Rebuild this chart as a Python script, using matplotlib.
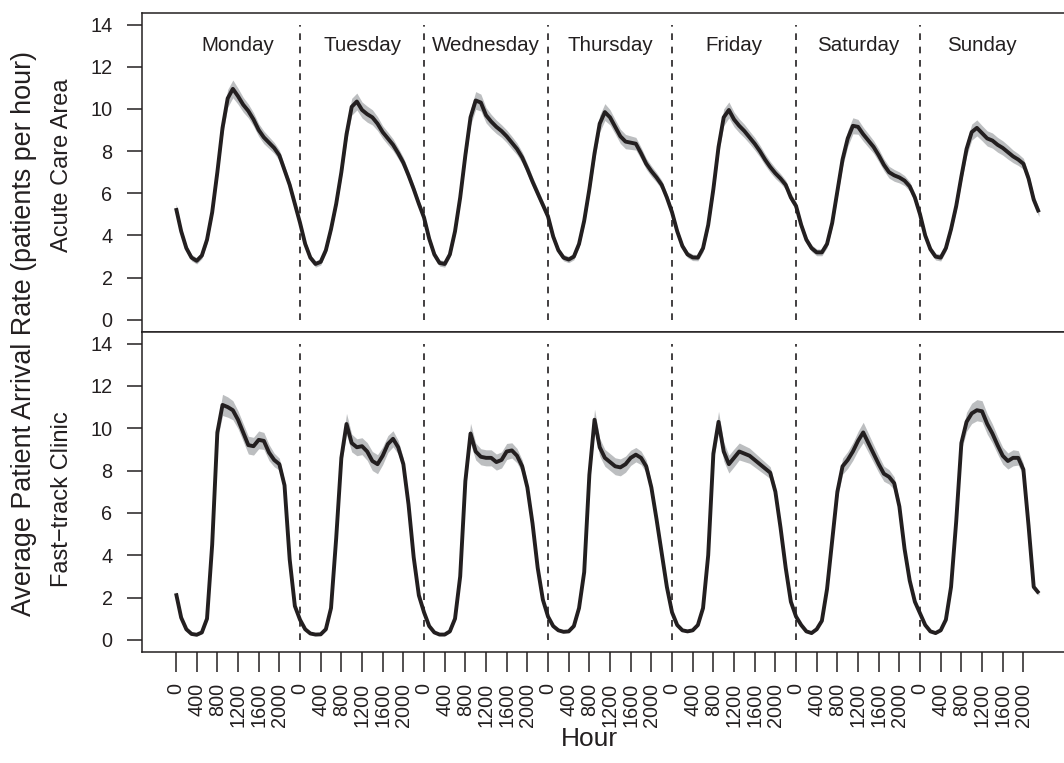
import numpy as np
import matplotlib
matplotlib.use("Agg")
import matplotlib.pyplot as plt

plt.rcParams['font.family'] = ['Liberation Sans', 'DejaVu Sans']

days = ["Monday", "Tuesday", "Wednesday", "Thursday", "Friday", "Saturday", "Sunday"]
tick_hours = [0, 4, 8, 12, 16, 20]
tick_names = ["0", "400", "800", "1200", "1600", "2000"]

# Acute Care Area, hourly average arrivals (hour 0..23 of each day)
acute_mon = [5.3, 4.2, 3.4, 2.95, 2.8, 3.05, 3.8, 5.1, 7.0, 9.1, 10.5, 10.95, 10.6, 10.2, 9.9, 9.5, 9.0, 8.65, 8.4, 8.15, 7.8, 7.1, 6.4, 5.5]
acute_tue = [4.6, 3.6, 2.95, 2.65, 2.75, 3.3, 4.3, 5.5, 7.0, 8.8, 10.1, 10.35, 9.95, 9.75, 9.6, 9.3, 8.9, 8.6, 8.3, 7.9, 7.45, 6.85, 6.2, 5.5]
acute_wed = [4.85, 3.85, 3.1, 2.7, 2.65, 3.1, 4.2, 5.8, 7.8, 9.6, 10.4, 10.3, 9.7, 9.4, 9.15, 8.95, 8.7, 8.4, 8.1, 7.7, 7.15, 6.55, 6.0, 5.45]
acute_thu = [4.9, 3.95, 3.3, 2.95, 2.86, 3.0, 3.6, 4.7, 6.2, 7.9, 9.3, 9.85, 9.6, 9.15, 8.7, 8.45, 8.4, 8.35, 7.9, 7.4, 7.05, 6.75, 6.4, 5.8]
acute_fri = [5.1, 4.2, 3.5, 3.1, 2.96, 2.95, 3.4, 4.5, 6.2, 8.2, 9.6, 9.95, 9.5, 9.2, 8.95, 8.65, 8.35, 8.0, 7.6, 7.25, 6.95, 6.7, 6.4, 5.8]
acute_sat = [5.4, 4.5, 3.8, 3.4, 3.2, 3.2, 3.6, 4.6, 6.1, 7.6, 8.6, 9.2, 9.15, 8.8, 8.5, 8.2, 7.8, 7.35, 7.0, 6.85, 6.75, 6.6, 6.33, 5.8]
acute_sun = [5.0, 4.0, 3.35, 3.0, 2.95, 3.4, 4.3, 5.4, 6.8, 8.1, 8.9, 9.1, 8.85, 8.6, 8.5, 8.3, 8.15, 7.95, 7.75, 7.6, 7.4, 6.7, 5.7, 5.1]

# Fast-track Clinic, hourly average arrivals
fast_mon = [2.2, 1.05, 0.5, 0.28, 0.24, 0.35, 1.0, 4.5, 9.8, 11.1, 11.0, 10.85, 10.4, 9.8, 9.2, 9.15, 9.45, 9.4, 8.85, 8.5, 8.3, 7.3, 3.8, 1.6]
fast_tue = [0.95, 0.5, 0.3, 0.25, 0.26, 0.5, 1.5, 4.8, 8.6, 10.2, 9.3, 9.1, 9.15, 8.9, 8.45, 8.3, 8.7, 9.25, 9.5, 9.1, 8.3, 6.4, 3.9, 2.1]
fast_wed = [1.3, 0.65, 0.35, 0.25, 0.25, 0.4, 1.0, 3.0, 7.5, 9.75, 8.9, 8.65, 8.6, 8.6, 8.4, 8.5, 8.9, 8.95, 8.7, 8.2, 7.2, 5.5, 3.4, 1.9]
fast_thu = [1.1, 0.65, 0.45, 0.38, 0.4, 0.65, 1.5, 3.2, 7.8, 10.4, 9.1, 8.6, 8.4, 8.2, 8.15, 8.3, 8.6, 8.75, 8.6, 8.2, 7.2, 5.7, 4.1, 2.5]
fast_fri = [1.3, 0.7, 0.45, 0.4, 0.45, 0.7, 1.5, 4.0, 8.8, 10.3, 8.9, 8.3, 8.6, 8.9, 8.8, 8.7, 8.5, 8.3, 8.1, 7.9, 7.0, 5.3, 3.4, 1.8]
fast_sat = [1.1, 0.7, 0.4, 0.32, 0.5, 0.9, 2.4, 4.7, 7.0, 8.2, 8.5, 8.9, 9.4, 9.8, 9.3, 8.8, 8.3, 7.85, 7.7, 7.4, 6.3, 4.3, 2.8, 1.8]
fast_sun = [1.25, 0.7, 0.4, 0.32, 0.45, 0.95, 2.5, 5.6, 9.3, 10.3, 10.7, 10.85, 10.8, 10.2, 9.75, 9.2, 8.7, 8.45, 8.6, 8.6, 8.05, 5.4, 2.5, 2.2]

# half-width of the grey confidence band
acute_band_mon = [0.2, 0.18, 0.15, 0.15, 0.15, 0.15, 0.18, 0.22, 0.3, 0.38, 0.42, 0.42, 0.38, 0.35, 0.33, 0.32, 0.3, 0.3, 0.28, 0.26, 0.25, 0.23, 0.22, 0.2]
acute_band_tue = [0.2, 0.18, 0.15, 0.15, 0.15, 0.15, 0.18, 0.22, 0.3, 0.36, 0.4, 0.4, 0.38, 0.38, 0.36, 0.33, 0.3, 0.3, 0.28, 0.26, 0.25, 0.23, 0.22, 0.2]
acute_band_wed = [0.2, 0.18, 0.15, 0.15, 0.15, 0.15, 0.18, 0.22, 0.3, 0.38, 0.42, 0.4, 0.36, 0.34, 0.32, 0.3, 0.3, 0.3, 0.28, 0.26, 0.25, 0.23, 0.22, 0.2]
acute_band_thu = [0.2, 0.18, 0.15, 0.15, 0.15, 0.15, 0.18, 0.22, 0.3, 0.36, 0.4, 0.4, 0.36, 0.34, 0.34, 0.34, 0.32, 0.3, 0.28, 0.26, 0.25, 0.23, 0.22, 0.2]
acute_band_fri = [0.2, 0.18, 0.15, 0.15, 0.15, 0.15, 0.18, 0.22, 0.3, 0.36, 0.4, 0.38, 0.35, 0.33, 0.32, 0.3, 0.3, 0.28, 0.27, 0.26, 0.25, 0.23, 0.22, 0.2]
acute_band_sat = [0.2, 0.18, 0.16, 0.16, 0.16, 0.16, 0.18, 0.22, 0.28, 0.34, 0.38, 0.38, 0.35, 0.33, 0.32, 0.3, 0.3, 0.28, 0.28, 0.28, 0.26, 0.24, 0.22, 0.2]
acute_band_sun = [0.2, 0.18, 0.16, 0.16, 0.16, 0.16, 0.18, 0.22, 0.28, 0.34, 0.38, 0.38, 0.36, 0.36, 0.36, 0.35, 0.34, 0.33, 0.3, 0.28, 0.26, 0.24, 0.22, 0.2]

fast_band_mon = [0.1, 0.06, 0.05, 0.05, 0.05, 0.06, 0.1, 0.2, 0.35, 0.5, 0.48, 0.45, 0.42, 0.42, 0.42, 0.42, 0.42, 0.4, 0.38, 0.32, 0.28, 0.22, 0.15, 0.12]
fast_band_tue = [0.1, 0.06, 0.05, 0.05, 0.05, 0.06, 0.1, 0.2, 0.35, 0.5, 0.42, 0.4, 0.4, 0.42, 0.45, 0.45, 0.42, 0.4, 0.38, 0.32, 0.28, 0.22, 0.15, 0.12]
fast_band_wed = [0.1, 0.06, 0.05, 0.05, 0.05, 0.06, 0.1, 0.2, 0.35, 0.48, 0.4, 0.38, 0.38, 0.38, 0.38, 0.38, 0.38, 0.36, 0.34, 0.3, 0.26, 0.2, 0.15, 0.12]
fast_band_thu = [0.1, 0.06, 0.05, 0.05, 0.05, 0.06, 0.1, 0.2, 0.35, 0.5, 0.42, 0.4, 0.4, 0.4, 0.4, 0.38, 0.36, 0.34, 0.32, 0.3, 0.26, 0.2, 0.15, 0.12]
fast_band_fri = [0.1, 0.06, 0.05, 0.05, 0.05, 0.06, 0.1, 0.2, 0.35, 0.5, 0.45, 0.42, 0.42, 0.4, 0.38, 0.36, 0.34, 0.32, 0.3, 0.28, 0.25, 0.2, 0.15, 0.12]
fast_band_sat = [0.1, 0.06, 0.05, 0.05, 0.05, 0.06, 0.12, 0.22, 0.32, 0.38, 0.4, 0.42, 0.45, 0.48, 0.45, 0.42, 0.4, 0.36, 0.34, 0.3, 0.26, 0.2, 0.15, 0.12]
fast_band_sun = [0.1, 0.06, 0.05, 0.05, 0.05, 0.06, 0.12, 0.22, 0.35, 0.45, 0.48, 0.5, 0.5, 0.48, 0.45, 0.42, 0.4, 0.38, 0.38, 0.34, 0.28, 0.2, 0.12, 0.1]

acute = np.array(acute_mon + acute_tue + acute_wed + acute_thu + acute_fri + acute_sat + acute_sun)
fast = np.array(fast_mon + fast_tue + fast_wed + fast_thu + fast_fri + fast_sat + fast_sun)
acute_band = np.array(acute_band_mon + acute_band_tue + acute_band_wed + acute_band_thu
                      + acute_band_fri + acute_band_sat + acute_band_sun)
fast_band = np.array(fast_band_mon + fast_band_tue + fast_band_wed + fast_band_thu
                     + fast_band_fri + fast_band_sat + fast_band_sun)
hours = np.arange(len(acute))

INK = '#231f20'
BAND = '#bcbec0'

W, H = 1064, 763
fig = plt.figure(figsize=(W / 100, H / 100), dpi=100)
left = 141.5 / W
width = (1073.4 - 141.5) / W
ax1 = fig.add_axes([left, 1 - 331.7 / H, width, (331.7 - 12.7) / H])
ax2 = fig.add_axes([left, 1 - 651.7 / H, width, (651.7 - 331.7) / H])

for ax, vals, band in ((ax1, acute, acute_band), (ax2, fast, fast_band)):
    ax.fill_between(hours, vals - band, vals + band, color=BAND, lw=0, zorder=1)
    ax.plot(hours, vals, color=INK, lw=2.8, solid_joinstyle='round', solid_capstyle='butt', zorder=3)
    ax.vlines([24 * k for k in range(1, 7)], 0, 14, colors=INK, lw=1.2,
              linestyles=(0, (4, 4)), zorder=2)
    ax.set_xlim(-6.68, 173.68)
    ax.set_ylim(-0.56, 14.56)
    ax.set_yticks(range(0, 15, 2))
    ax.tick_params(axis='y', direction='out', length=10.8, width=1.1, pad=10,
                   labelsize=14.3, colors=INK)
    for s in ax.spines.values():
        s.set_linewidth(1.1)
        s.set_color(INK)

ax1.set_xticks([])
xt = [24 * d + h for d in range(7) for h in tick_hours]
xl = [n for d in range(7) for n in tick_names]
ax2.set_xticks(xt)
ax2.set_xticklabels(xl, rotation=90)
ax2.tick_params(axis='x', direction='out', length=14.4, width=1.1, pad=8,
                labelsize=14.3, colors=INK)

for d, name in enumerate(days):
    ax1.text(24 * d + 12, 12.74, name, ha='center', va='baseline', fontsize=14.8, color=INK)

fig.text(24 / W, 1 - 333.5 / H, "Average Patient Arrival Rate (patients per hour)",
         rotation=90, ha='center', va='center', fontsize=19.4, color=INK)
fig.text(62 / W, 1 - 165.3 / H, "Acute Care Area", rotation=90, ha='center', va='center',
         fontsize=17, color=INK)
fig.text(62 / W, 1 - 498.7 / H, "Fast\u2212track Clinic", rotation=90, ha='center', va='center',
         fontsize=17, color=INK)
fig.text(589 / W, 1 - 739 / H, "Hour", ha='center', va='center', fontsize=19, color=INK)

fig.savefig("out.png", dpi=100)
